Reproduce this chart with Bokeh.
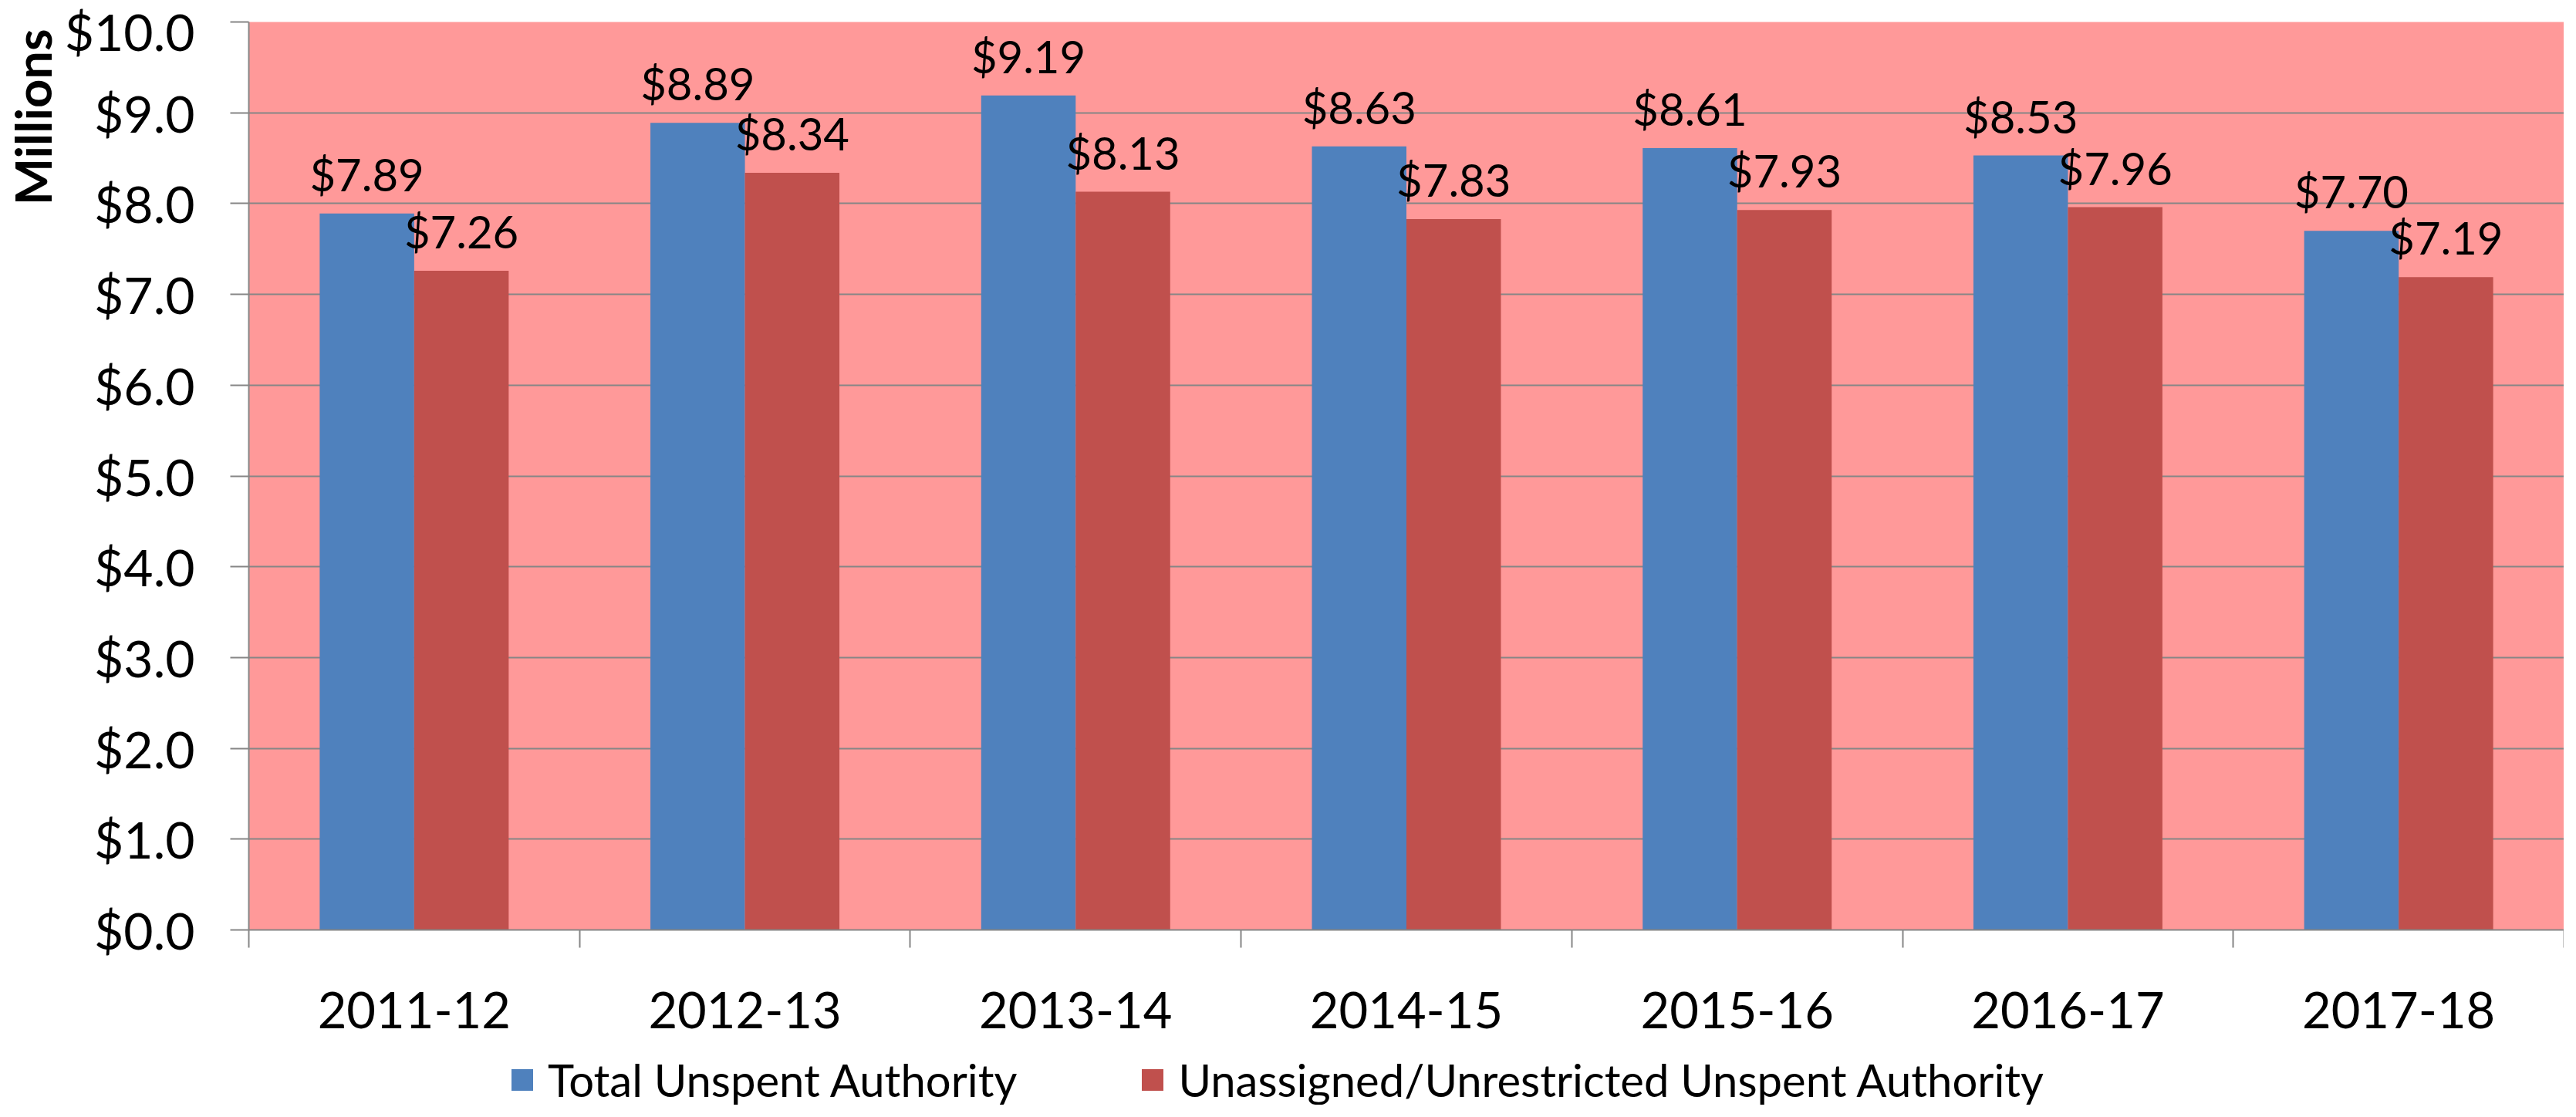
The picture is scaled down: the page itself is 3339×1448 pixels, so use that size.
from bokeh.plotting import figure
from bokeh.layouts import column
from bokeh.models import (ColumnDataSource, FixedTicker, NumeralTickFormatter, Range1d,
                          LabelSet, Legend, LegendItem, Title)
from bokeh.core.properties import value
from bokeh.embed import file_html
from bokeh.resources import INLINE

# ---- data ----
categories = ["2011-12", "2012-13", "2013-14", "2014-15", "2015-16", "2016-17", "2017-18"]
total_unspent = [7.89, 8.89, 9.19, 8.63, 8.61, 8.53, 7.70]
unassigned_unspent = [7.26, 8.34, 8.13, 7.83, 7.93, 7.96, 7.19]
series_names = ["Total Unspent Authority", "Unassigned/Unrestricted Unspent Authority"]
y_tick_values = [0, 1, 2, 3, 4, 5, 6, 7, 8, 9, 10]

# ---- style ----
FONT = "Lato"
BLUE = "#4F81BD"
RED = "#C0504D"
PINK = "#FF9999"
GRID = "#868686"
BAR_W = 1 / 3.5
W = 3323
LEFT = 316

n = len(categories)
centers = [i + 0.5 for i in range(n)]
boundaries = [float(i) for i in range(n + 1)]

blue_src = ColumnDataSource(dict(
    x=[c - BAR_W / 2 for c in centers], top=total_unspent,
    text=["${:.2f}".format(v) for v in total_unspent]))
red_src = ColumnDataSource(dict(
    x=[c + BAR_W / 2 for c in centers], top=unassigned_unspent,
    text=["${:.2f}".format(v) for v in unassigned_unspent]))

p = figure(width=W, height=1345, x_range=Range1d(0, n), y_range=Range1d(0, 10),
           output_backend="svg", toolbar_location=None, title=None,
           min_border_left=LEFT, min_border_right=0, min_border_top=28, min_border_bottom=140)
p.background_fill_color = PINK
p.border_fill_color = "white"
p.outline_line_color = None

rb = p.vbar(x="x", top="top", width=BAR_W, source=blue_src, fill_color=BLUE, line_color=None)
rr = p.vbar(x="x", top="top", width=BAR_W, source=red_src, fill_color=RED, line_color=None)

for src in (blue_src, red_src):
    p.add_layout(LabelSet(x="x", y="top", text="text", source=src, text_align="center",
                          text_baseline="alphabetic", y_offset=29,
                          text_font=value(FONT), text_font_size=value("58px"),
                          text_color="black"))

# y axis
yax = p.yaxis[0]
yax.ticker = FixedTicker(ticks=y_tick_values, minor_ticks=[])
yax.formatter = NumeralTickFormatter(format="$0.0")
yax.axis_line_color = GRID
yax.axis_line_width = 2
yax.major_tick_line_color = GRID
yax.major_tick_line_width = 2
yax.major_tick_out = 24
yax.major_tick_in = 0
yax.minor_tick_line_color = None
yax.major_label_standoff = 46
yax.major_label_text_font = FONT
yax.major_label_text_font_size = "66px"
yax.major_label_text_color = "black"

# x axis: labels at category centers, ticks at category boundaries
xax = p.xaxis[0]
xax.ticker = FixedTicker(ticks=centers, minor_ticks=boundaries)
xax.major_label_overrides = {c: cat for c, cat in zip(centers, categories)}
xax.axis_line_color = GRID
xax.axis_line_width = 2
xax.major_tick_line_color = None
xax.major_tick_out = 0
xax.major_tick_in = 0
xax.minor_tick_line_color = GRID
xax.minor_tick_line_width = 2
xax.minor_tick_out = 23
xax.minor_tick_in = 0
xax.major_label_standoff = 57
xax.major_label_text_font = FONT
xax.major_label_text_font_size = "65px"
xax.major_label_text_color = "black"

p.xgrid.grid_line_color = None
p.ygrid.ticker = FixedTicker(ticks=y_tick_values)
p.ygrid.grid_line_color = GRID
p.ygrid.grid_line_width = 2

p.add_layout(Title(text="Millions", align="right", offset=9, standoff=0, text_font=FONT,
                   text_font_size="65px", text_font_style="bold", text_color="black"), "left")

# ---- legend strip (separate figure under the chart) ----
LG_H = 87
lg = figure(width=W, height=LG_H, x_range=Range1d(-20, -19), y_range=Range1d(0, 10),
            output_backend="svg", toolbar_location=None, title=None,
            x_axis_location=None, y_axis_location=None,
            min_border_left=LEFT, min_border_right=0, min_border_top=0, min_border_bottom=0)
lg.outline_line_color = None
lg.grid.visible = False
lg.background_fill_color = "white"
lg.border_fill_color = "white"
# off-range proxies that share the series data, only used for the legend swatches
proxy_b = lg.vbar(x="x", top="top", width=BAR_W, source=blue_src, fill_color=BLUE, line_color=None)
proxy_r = lg.vbar(x="x", top="top", width=BAR_W, source=red_src, fill_color=RED, line_color=None)
legend = Legend(items=[LegendItem(label=series_names[0], renderers=[proxy_b]),
                       LegendItem(label=series_names[1], renderers=[proxy_r])],
                location=(337, -2), orientation="horizontal", spacing=158,
                padding=0, margin=0, border_line_color=None, background_fill_alpha=0,
                glyph_width=35, glyph_height=35, label_standoff=16,
                label_text_baseline="alphabetic",
                label_text_font=FONT, label_text_font_size="58px", label_text_color="black")
lg.add_layout(legend, "center")

open("out.html", "w").write(file_html(column(p, lg, spacing=0), INLINE))
